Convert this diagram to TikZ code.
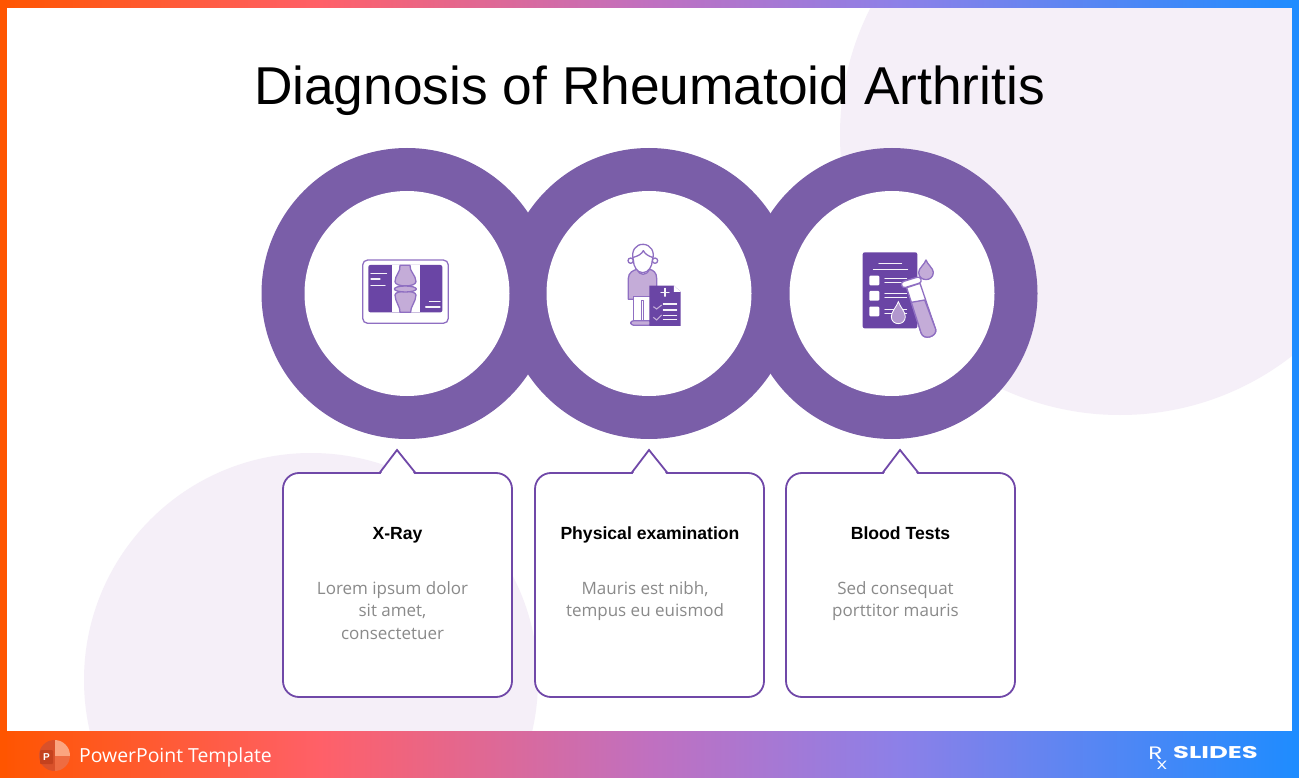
\documentclass[tikz,border=0pt]{standalone}
\usepackage{fontspec}
\setmainfont{Liberation Sans}
\newfontfamily\bodyfont{Open Sans}
\newfontfamily\logofont{Poppins}
\usetikzlibrary{calc}
\definecolor{blush}{HTML}{F5EFF8}
\definecolor{ring}{HTML}{7A5EA8}
\definecolor{edge}{HTML}{7048A8}
\definecolor{deep}{HTML}{6A45A5}
\definecolor{soft}{HTML}{C4ACD8}
\definecolor{mid}{HTML}{8F6FC2}
\definecolor{muted}{HTML}{8A8A8A}
\definecolor{fadea}{HTML}{FF5500}
\definecolor{fadeb}{HTML}{FF6068}
\definecolor{fadec}{HTML}{C070C0}
\definecolor{faded}{HTML}{8C80E8}
\definecolor{fadee}{HTML}{1E8CFF}
\definecolor{pptlight}{HTML}{FBA580}
\definecolor{pptmid}{HTML}{EE6C42}
\definecolor{pptdark}{HTML}{D9512A}
\definecolor{pptbox}{HTML}{C4421E}
\tikzset{
  callout/.style={draw=edge, line width=1.8pt, fill=white, rounded corners=16pt, minimum width=229pt, minimum height=224pt, inner sep=0pt},
  tipline/.style={draw=edge, line width=1.8pt, line join=miter},
  head/.style={text=black, font=\fontsize{17.6}{20}\selectfont\bfseries, inner sep=0pt, anchor=base},
  body/.style={text=muted, font=\bodyfont\fontsize{17}{22.5}\selectfont, align=center, inner sep=0pt},
  iconline/.style={draw=mid, line width=1.3pt, line join=round, line cap=round},
  paperline/.style={draw=white!85!soft, line width=1.1pt, line cap=round},
  hardfill/.style={fill=deep, rounded corners=2pt},
  softfill/.style={fill=soft, draw=mid, line width=1.3pt, line join=round},
  logotext/.style={text=white, inner sep=0pt}
}
\begin{document}
\begin{tikzpicture}[x=1pt,y=-1pt]
  \useasboundingbox (0,0) rectangle (1299,778);
  \fill[white] (0,0) rectangle (1299,778);

  % soft discs behind everything
  \fill[blush] (1120,135) circle (280);
  \fill[blush] (311,680) circle (227);

  % rings
  \foreach \cx in {407,649,892}
    \fill[ring] (\cx,293.5) circle (145.5);
  \foreach \cx in {407,649,892}
    \fill[white] (\cx,293.5) circle (102.5);

  % callouts
  \foreach \boxname/\cx/\px in {xraybox/397.5/397,exambox/649.5/649,bloodbox/900.5/900} {
    \node[callout] (\boxname) at (\cx,585) {};
    \fill[white] (\px-17,475) -- (\px,450) -- (\px+18,475) -- cycle;
    \draw[tipline] (\px-17.5,473) -- (\px,450) -- (\px+18.5,473);
  }

  \node[head] (xrayhead) at (397.5,539) {X-Ray};
  \node[head] (examhead) at (650,539) {Physical examination};
  \node[head] (bloodhead) at (900.5,539) {Blood Tests};
  \node[body] (xraytext) at (392.5,610.5) {Lorem ipsum dolor\\sit amet,\\consectetuer};
  \node[body] (examtext) at (645,601) {Mauris est nibh,\\tempus eu euismod};
  \node[body] (bloodtext) at (895.5,601) {Sed consequat\\porttitor mauris};

  % x-ray icon
  \begin{scope}[shift={(340,230)},x=0.3333pt,y=-0.3333pt]
    \draw[draw=mid,line width=1.3pt,fill=white,rounded corners=5pt] (68,90) rectangle (325,280);
    \fill[hardfill] (85,105) rectangle (307,247);
    \fill[white] (155,105) rectangle (240,247);
    \filldraw[softfill] (180,106) .. controls (183,125) and (165,135) .. (165,155)
      .. controls (165,172) and (228,172) .. (228,155) .. controls (228,135) and (208,125) .. (210,106) -- cycle;
    \filldraw[softfill] (180,247) .. controls (182,232) and (165,215) .. (165,195)
      .. controls (165,180) and (228,180) .. (228,195) .. controls (228,215) and (210,232) .. (212,247) -- cycle;
    \filldraw[softfill] (196,177) ellipse (33 and 9);
    \foreach \a/\b/\c in {93/140/130,93/120/147,93/135/167,268/300/215,257/300/231}
      \draw[paperline] (\a,\c) -- (\b,\c);
  \end{scope}

  % examination icon
  \begin{scope}[shift={(600,230)},x=0.3333pt,y=-0.3333pt]
    \filldraw[softfill] (100,208) -- (85,208) -- (85,145) .. controls (85,128) and (100,120) .. (112,118)
      .. controls (118,138) and (140,138) .. (148,118) .. controls (160,120) and (170,128) .. (170,145)
      -- (170,208) -- cycle;
    \filldraw[iconline,fill=white] (100,200) -- (100,272) -- (125,272) -- (125,212) -- (130,212) -- (130,272) -- (155,272) -- (155,200) -- cycle;
    \filldraw[softfill,rounded corners=3pt] (92,272) rectangle (155,286);
    \filldraw[iconline,fill=white] (92,92) circle (8) (165,92) circle (8);
    \filldraw[iconline,fill=white] (100,90) .. controls (100,110) and (112,128) .. (128,128)
      .. controls (145,128) and (157,110) .. (157,90) .. controls (166,65) and (152,44) .. (130,43)
      .. controls (108,42) and (92,62) .. (100,90) -- cycle;
    \draw[iconline] (100,82) .. controls (115,78) and (125,72) .. (130,62) .. controls (135,72) and (145,78) .. (157,82);
    \fill[deep] (148,167) -- (222,167) -- (242,186) -- (242,288) -- (148,288) -- cycle;
    \fill[white] (222,167) -- (242,186) -- (222,186) -- cycle;
    \draw[paperline] (183,187) -- (207,187) (195,175) -- (195,199);
    \foreach \c in {222,240,257,269}
      \draw[paperline] (190,\c) -- (230,\c);
    \draw[soft,line width=1.1pt] (160,230) -- (170,237) -- (185,225) (160,262) -- (170,270) -- (185,255);
  \end{scope}

  % blood test icon
  \begin{scope}[shift={(840,235)},x=0.3333pt,y=-0.3333pt]
    \fill[hardfill] (68,52) rectangle (232,280);
    \draw[paperline] (117,85) -- (185,85) (100,103) -- (203,103);
    \foreach \c in {122,168,215} {
      \fill[white,rounded corners=1pt] (88,\c) rectangle (118,\c+29);
      \draw[paperline] (135,\c+8) -- (200,\c+8) (135,\c+20) -- (200,\c+20);
    }
    \filldraw[fill=soft!80!deep,draw=white,line width=0.8pt] (175,200) .. controls (180,215) and (196,230) .. (196,245)
      .. controls (196,273) and (154,273) .. (154,245) .. controls (154,230) and (170,215) .. (175,200) -- cycle;
    \filldraw[softfill] (258,75) .. controls (262,88) and (280,100) .. (280,112)
      .. controls (280,141) and (236,141) .. (236,112) .. controls (236,100) and (254,88) .. (258,75) -- cycle;
    \filldraw[iconline,fill=white] (200,158) -- (243,293) .. controls (250,318) and (292,305) .. (287,283) -- (240,145) -- cycle;
    \filldraw[softfill] (214,202) -- (254,195) -- (287,283) .. controls (292,305) and (250,318) .. (243,293) -- cycle;
    \filldraw[iconline,fill=white,rounded corners=3pt] (182,142) -- (240,124) -- (246,142) -- (188,160) -- cycle;
  \end{scope}

  % edge bars
  \foreach \xa/\xb/\ca/\cb in {0/320/fadea/fadeb,320/650/fadeb/fadec,650/900/fadec/faded,900/1299/faded/fadee} {
    \shade[left color=\ca,right color=\cb] (\xa,731) rectangle (\xb,778);
    \shade[left color=\ca,right color=\cb] (\xa,0) rectangle (\xb,8);
  }
  \fill[fadea] (0,0) rectangle (7,778);
  \fill[fadee] (1292,0) rectangle (1299,778);

  \node[text=black,font=\fontsize{53.3}{60}\selectfont,inner sep=0pt,anchor=base] (title) at (649.5,105) {Diagnosis of Rheumatoid Arthritis};

  % powerpoint mark
  \begin{scope}
    \clip (54.5,755.5) circle (15.5);
    \fill[pptdark] (39,740) rectangle (54.5,771);
    \fill[pptlight] (54.5,740) rectangle (70,755.5);
    \fill[pptmid] (54.5,755.5) rectangle (70,771);
  \end{scope}
  \fill[pptbox,rounded corners=1pt] (40,750) rectangle (53,764);
  \node[logotext,font=\fontsize{10}{10}\selectfont\bfseries] (pptmark) at (46.5,757) {P};
  \node[logotext,font=\bodyfont\fontsize{19.4}{24}\selectfont,anchor=base west] (pptlabel) at (79,762) {PowerPoint Template};

  % rx slides mark
  \node[logotext,font=\logofont\fontsize{18}{18}\selectfont] (rxr) at (1155.5,753) {\scalebox{1.3}[1]{R}};
  \node[logotext,font=\logofont\fontsize{12}{12}\selectfont] (rxx) at (1162,765) {\scalebox{1.5}[1]{X}};
  \node[logotext,font=\logofont\fontsize{17}{17}\selectfont\bfseries,anchor=west] (rxname) at (1173,753) {\scalebox{1.52}[1]{SLIDES}};
\end{tikzpicture}
\end{document}
